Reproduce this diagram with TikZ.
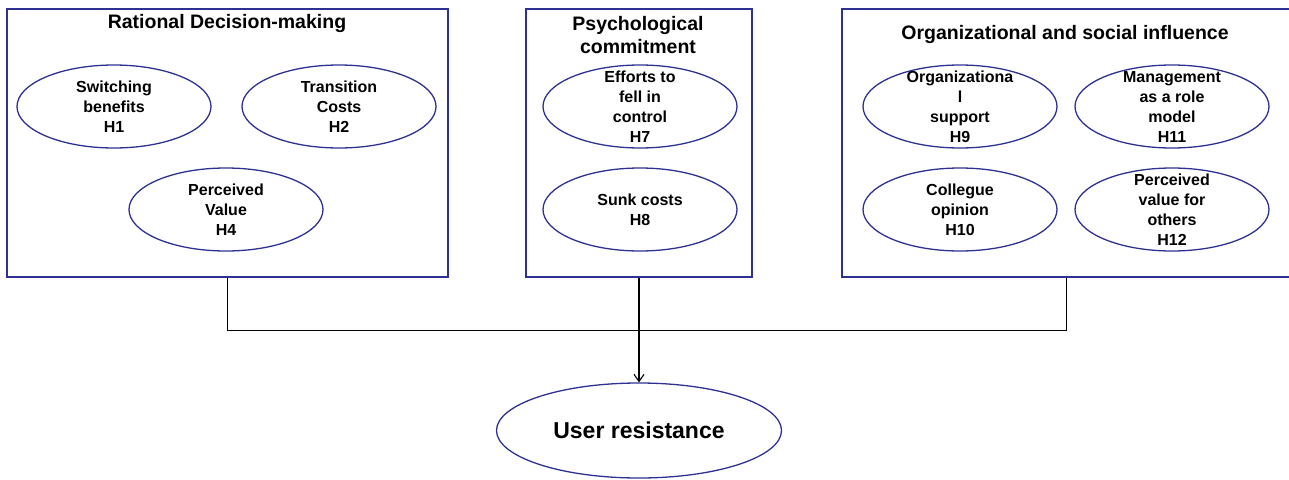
\documentclass[tikz,border=0pt]{standalone}
\usepackage{fontspec}
\setmainfont{Liberation Sans}
\usetikzlibrary{shapes.geometric,arrows.meta}
\definecolor{navy}{RGB}{46,49,146}
\begin{document}
\begin{tikzpicture}[x=1pt,y=-1pt,
    box/.style={draw=navy,line width=1.3pt,rectangle,minimum height=268pt},
    hyp/.style={draw=navy,line width=1.3pt,ellipse,minimum width=194pt,minimum height=83pt,inner sep=0pt},
    hyptext/.style={align=center,font=\fontsize{16}{20}\selectfont\bfseries,inner sep=0pt},
    heading/.style={align=center,font=\fontsize{19.5}{23}\selectfont\bfseries},
    link/.style={line width=1.1pt}]
\useasboundingbox (0,0) rectangle (1289,479);

% the three groups
\node[box,minimum width=441pt] (rdm) at (227.5,143) {};
\node[box,minimum width=226pt] (pc) at (639,143) {};
\node[box,minimum width=449pt] (osi) at (1066.5,143) {};

\node[heading] (rdmtitle) at (227,24) {Rational Decision-making};
\node[heading] (pctitle) at (638,35.5) {Psychological\\commitment};
\node[heading] (osititle) at (1065,35) {Organizational and social influence};

% hypotheses
\node[hyp,label={[hyptext]center:Switching\\benefits\\H1}] (h1) at (114,106.5) {};
\node[hyp,label={[hyptext]center:Transition\\Costs\\H2}] (h2) at (339,106.5) {};
\node[hyp,label={[hyptext]center:Perceived\\Value\\H4}] (h4) at (226,209.5) {};
\node[hyp,label={[hyptext]center:Efforts to\\fell in\\control\\H7}] (h7) at (640,106.5) {};
\node[hyp,label={[hyptext]center:Sunk costs\\H8}] (h8) at (640,209.5) {};
\node[hyp,label={[hyptext]center:Organizationa\\l\\support\\H9}] (h9) at (960,106.5) {};
\node[hyp,label={[hyptext]center:Management\\as a role\\model\\H11}] (h11) at (1172,106.5) {};
\node[hyp,label={[hyptext]center:Collegue\\opinion\\H10}] (h10) at (960,209.5) {};
\node[hyp,label={[hyptext]center:Perceived\\value for\\others\\H12}] (h12) at (1172,209.5) {};

% outcome
\node[hyp,minimum width=285pt,minimum height=95pt,
  label={[font=\fontsize{23}{26}\selectfont\bfseries]center:User resistance}] (ur) at (639,430.5) {};

\draw[link] (rdm.south) -- ++(0,53) -| (osi.south);
\draw[link,-{Straight Barb[length=7pt,width=10pt]}] (pc.south) -- (ur.north);
\end{tikzpicture}
\end{document}
